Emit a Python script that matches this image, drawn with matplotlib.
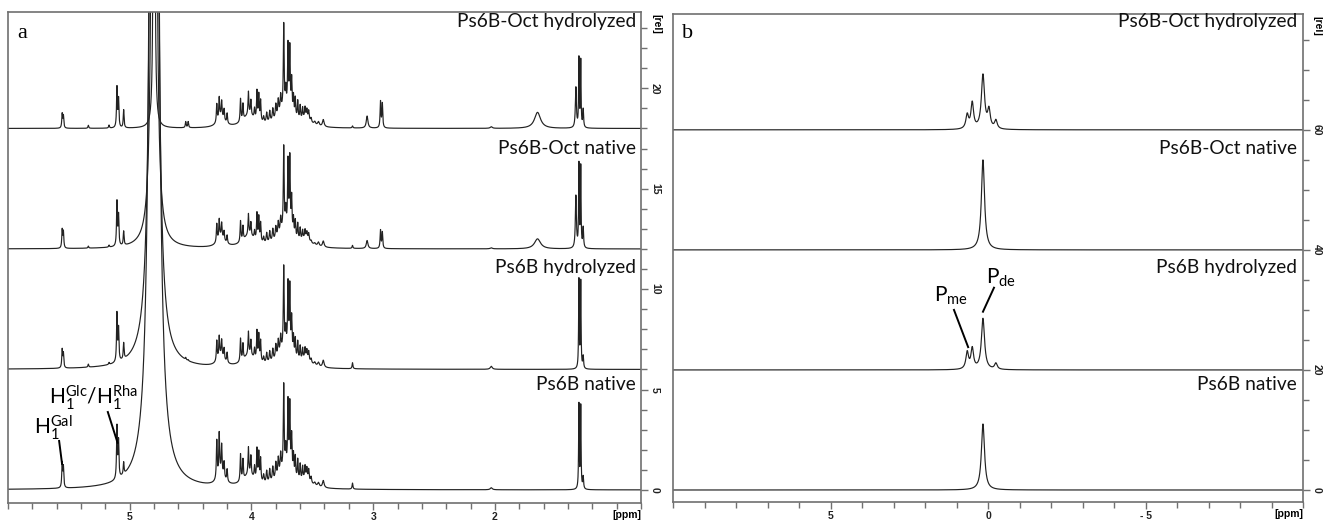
import numpy as np
import matplotlib
matplotlib.use("Agg")
import matplotlib.pyplot as plt
from matplotlib.ticker import MultipleLocator, FixedLocator, FixedFormatter
from matplotlib.font_manager import FontProperties

# ---------------- data ----------------
SPECTRA_NAMES = ["Ps6B-Oct hydrolyzed", "Ps6B-Oct native", "Ps6B hydrolyzed", "Ps6B native"]

# panel a: 1H spectra (line positions in ppm, heights in [rel], half-widths in ppm)
A_PPM = [5.555, 5.545, 5.34, 5.17, 5.105, 5.092, 5.05, 4.54, 4.52,
         4.285, 4.265, 4.245, 4.225, 4.20,
         4.09, 4.07, 4.025, 4.005, 3.975, 3.955, 3.94, 3.925,
         3.90, 3.875, 3.85, 3.825, 3.80, 3.78, 3.76,
         3.735, 3.718, 3.70, 3.685, 3.67, 3.655, 3.64, 3.62, 3.60, 3.58, 3.56, 3.545, 3.53, 3.51, 3.48, 3.45, 3.41,
         3.17, 3.05, 2.94, 2.925, 2.03, 1.65, 1.335, 1.31, 1.295, 1.275,
         4.25, 4.02, 3.72, 3.55]
A_WIDTH = [0.004, 0.004, 0.004, 0.004, 0.004, 0.004, 0.004, 0.004, 0.004,
           0.004, 0.004, 0.004, 0.004, 0.004,
           0.004, 0.004, 0.004, 0.004, 0.004, 0.004, 0.004, 0.004,
           0.005, 0.005, 0.005, 0.005, 0.005, 0.005, 0.005,
           0.004, 0.004, 0.004, 0.004, 0.004, 0.004, 0.004, 0.004, 0.004, 0.004, 0.004, 0.004, 0.004, 0.005, 0.008, 0.008, 0.008,
           0.004, 0.008, 0.004, 0.004, 0.010, 0.030, 0.005, 0.003, 0.003, 0.004,
           0.035, 0.060, 0.070, 0.040]
A_OCT_HYD = [0.7, 0.6, 0.15, 0.15, 2.0, 1.4, 0.9, 0.3, 0.3,
             0.9, 1.05, 0.8, 0.55, 0.5,
             1.15, 0.8, 1.15, 0.75, 0.5, 1.45, 1.3, 1.05,
             0.3, 0.5, 0.55, 0.6, 0.7, 0.8, 0.85,
             4.2, 0.9, 3.15, 3.1, 1.65, 0.95, 0.95, 0.9, 0.7, 0.55, 0.5, 0.4, 0.42, 0.2, 0.15, 0.2, 0.35,
             0.1, 0.6, 1.3, 1.2, 0.08, 0.8, 2.0, 3.4, 3.3, 0.9,
             0.5, 0.6, 0.9, 0.4]
A_OCT_NAT = [0.9, 0.8, 0.1, 0.1, 2.2, 1.5, 0.7, 0.0, 0.0,
             0.9, 0.95, 0.7, 0.45, 0.4,
             1.05, 0.7, 1.05, 0.65, 0.4, 1.35, 1.2, 0.95,
             0.3, 0.5, 0.55, 0.6, 0.6, 0.7, 0.75,
             4.1, 0.9, 3.35, 3.6, 1.75, 0.85, 0.85, 0.8, 0.6, 0.45, 0.4, 0.3, 0.32, 0.1, 0.1, 0.2, 0.3,
             0.15, 0.4, 0.9, 0.8, 0.05, 0.5, 2.6, 4.1, 4.0, 1.0,
             0.5, 0.6, 0.9, 0.4]
A_PS_HYD = [0.9, 0.7, 0.15, 0.1, 2.4, 1.6, 0.8, 0.1, 0.05,
            1.0, 1.05, 0.8, 0.55, 0.5,
            1.15, 0.8, 1.15, 0.75, 0.5, 1.45, 1.3, 1.05,
            0.3, 0.5, 0.55, 0.6, 0.7, 0.8, 0.85,
            4.1, 0.9, 3.25, 3.2, 1.75, 0.95, 0.95, 0.9, 0.7, 0.55, 0.5, 0.4, 0.42, 0.2, 0.15, 0.2, 0.35,
            0.3, 0.0, 0.0, 0.0, 0.15, 0.0, 0.0, 4.4, 4.3, 0.6,
            0.5, 0.6, 0.9, 0.4]
A_PS_NAT = [1.2, 1.0, 0.0, 0.0, 2.6, 1.8, 0.6, 0.0, 0.0,
            1.9, 2.05, 1.4, 0.75, 0.6,
            1.35, 1.0, 1.35, 0.95, 0.6, 1.55, 1.4, 1.15,
            0.4, 0.6, 0.65, 0.7, 0.8, 0.9, 0.95,
            4.2, 1.0, 3.35, 3.3, 1.85, 1.05, 1.05, 1.0, 0.8, 0.65, 0.6, 0.5, 0.52, 0.3, 0.15, 0.2, 0.35,
            0.3, 0.0, 0.0, 0.0, 0.1, 0.0, 0.0, 4.2, 4.1, 0.6,
            0.6, 0.6, 0.9, 0.4]
# residual water (HDO) line, per spectrum
HDO_PPM = 4.80
HDO_HEIGHT = [100, 300, 400, 400]
HDO_WIDTH = [0.003, 0.006, 0.009, 0.011]
A_OFFSETS = [18, 12, 6, 0]
A_XTICKS = [5, 4, 3, 2]
A_YTICKS = [0, 5, 10, 15, 20]

# panel b: 31P spectra
B_PPM = [0.66, 0.50, 0.16, -0.03, -0.25]
B_WIDTH = [0.05, 0.05, 0.06, 0.05, 0.05]
B_OCT_HYD = [2.3, 4.3, 9.0, 3.0, 1.4]
B_OCT_NAT = [0.0, 0.0, 15.0, 0.0, 0.0]
B_PS_HYD = [2.8, 3.4, 8.5, 0.0, 1.0]
B_PS_NAT = [0.0, 0.0, 11.0, 0.0, 0.0]
B_OFFSETS = [60, 40, 20, 0]
B_XTICKS = [5, 0, -5]
B_XTICKLABELS = ["5", "0", "- 5"]
B_YTICKS = [0, 20, 40, 60]


def lorentz_sum(x, pos, hts, wid):
    y = np.zeros_like(x)
    for p, h, w in zip(pos, hts, wid):
        if h:
            y += h * w * w / ((x - p) ** 2 + w * w)
    return y


plt.rcParams['font.family'] = ['Lato', 'DejaVu Sans']
plt.rcParams['mathtext.fontset'] = 'custom'
plt.rcParams['mathtext.rm'] = 'Lato'
plt.rcParams['mathtext.it'] = 'Lato'

W, H = 1323, 524
fig = plt.figure(figsize=(W / 100, H / 100), dpi=100)

def frac(x0, y0, x1, y1):
    return [x0 / W, 1 - y1 / H, (x1 - x0) / W, (y1 - y0) / H]

axa = fig.add_axes(frac(8, 12, 641, 503))
axb = fig.add_axes(frac(673, 14, 1303, 502))

LINE = '#222222'
EDGE = '#707070'
TICKFONT = dict(family='Liberation Sans', weight='bold', size=7.5)

# ---- panel a ----
xa = np.linspace(6.05, 0.75, 12000)
a_heights = [A_OCT_HYD, A_OCT_NAT, A_PS_HYD, A_PS_NAT]
for i in range(4):
    y = lorentz_sum(xa, A_PPM, a_heights[i], A_WIDTH)
    y += lorentz_sum(xa, [HDO_PPM], [HDO_HEIGHT[i]], [HDO_WIDTH[i]])
    axa.plot(xa, y + A_OFFSETS[i], color=LINE, lw=0.85)
axa.set_xlim(6.0, 0.8)
axa.set_ylim(-0.65, 23.8)

# ---- panel b ----
xb = np.linspace(10.2, -10.2, 8000)
b_heights = [B_OCT_HYD, B_OCT_NAT, B_PS_HYD, B_PS_NAT]
for i in range(4):
    y = lorentz_sum(xb, B_PPM, b_heights[i], B_WIDTH)
    axb.plot(xb, y + B_OFFSETS[i], color=LINE, lw=0.85)
axb.set_xlim(10.0, -10.0)
axb.set_ylim(-2.0, 79.3)

for ax in (axa, axb):
    for s in ax.spines.values():
        s.set_color(EDGE)
        s.set_linewidth(1.2)
    ax.yaxis.tick_right()
    ax.tick_params(axis='both', which='both', direction='out', colors=EDGE,
                   labelcolor='#222222', width=1.0)
    ax.tick_params(axis='both', which='major', length=5)
    ax.tick_params(axis='both', which='minor', length=4)
    ax.tick_params(axis='x', pad=1.5)
    ax.tick_params(axis='y', pad=1.5)

axa.xaxis.set_major_locator(FixedLocator(A_XTICKS))
axa.xaxis.set_minor_locator(MultipleLocator(0.2))
axa.yaxis.set_major_locator(FixedLocator(A_YTICKS))
axa.yaxis.set_minor_locator(MultipleLocator(1))
axb.xaxis.set_major_locator(FixedLocator(B_XTICKS))
axb.xaxis.set_major_formatter(FixedFormatter(B_XTICKLABELS))
axb.xaxis.set_minor_locator(MultipleLocator(1))
axb.yaxis.set_major_locator(FixedLocator(B_YTICKS))
axb.yaxis.set_minor_locator(MultipleLocator(5))

for ax in (axa, axb):
    for lab in ax.get_xticklabels():
        lab.set_fontproperties(FontProperties(**TICKFONT))
    for lab in ax.get_yticklabels():
        lab.set_fontproperties(FontProperties(**TICKFONT))
        lab.set_rotation(-90)
        lab.set_va('center')

# [ppm] / [rel] labels
axa.text(0.92, -0.014, '[ppm]', transform=axa.get_xaxis_transform(), ha='center', va='top', **TICKFONT)
axb.text(-9.55, -0.014, '[ppm]', transform=axb.get_xaxis_transform(), ha='center', va='top', **TICKFONT)
fig.text(656 / W, 1 - 24 / H, '[rel]', rotation=-90, ha='center', va='center', **TICKFONT)
fig.text(1317 / W, 1 - 26 / H, '[rel]', rotation=-90, ha='center', va='center', **TICKFONT)

# spectrum names
A_LABEL_Y = [22, 148, 268, 385]
for name, yy in zip(SPECTRA_NAMES, A_LABEL_Y):
    fig.text(636 / W, 1 - yy / H, name, ha='right', va='center', fontsize=13.8, color='#111111')
    fig.text(1297 / W, 1 - yy / H, name, ha='right', va='center', fontsize=13.8, color='#111111')

# panel letters
fig.text(22 / W, 1 - 33 / H, 'a', fontsize=16, family='Liberation Serif', ha='center', va='center')
fig.text(688 / W, 1 - 33 / H, 'b', fontsize=16, family='Liberation Serif', ha='center', va='center')

# peak annotations, panel a
axa.text(5.63, 3.1, r'H$_1^{\mathrm{Gal}}$', ha='center', va='center', fontsize=15)
axa.plot([5.58, 5.556], [2.44, 1.3], color='k', lw=1.4)
axa.text(5.30, 4.6, r'H$_1^{\mathrm{Glc}}$/H$_1^{\mathrm{Rha}}$', ha='center', va='center', fontsize=15)
axa.plot([5.18, 5.10], [3.88, 2.35], color='k', lw=1.4)

# peak annotations, panel b
axb.text(1.17, 32.3, r'P$_{\mathrm{me}}$', ha='center', va='center', fontsize=15)
axb.plot([1.08, 0.63], [30.0, 23.8], color='k', lw=1.4)
axb.text(-0.41, 35.3, r'P$_{\mathrm{de}}$', ha='center', va='center', fontsize=15)
axb.plot([-0.19, 0.16], [33.7, 29.7], color='k', lw=1.4)

fig.savefig('out.png', dpi=100)
